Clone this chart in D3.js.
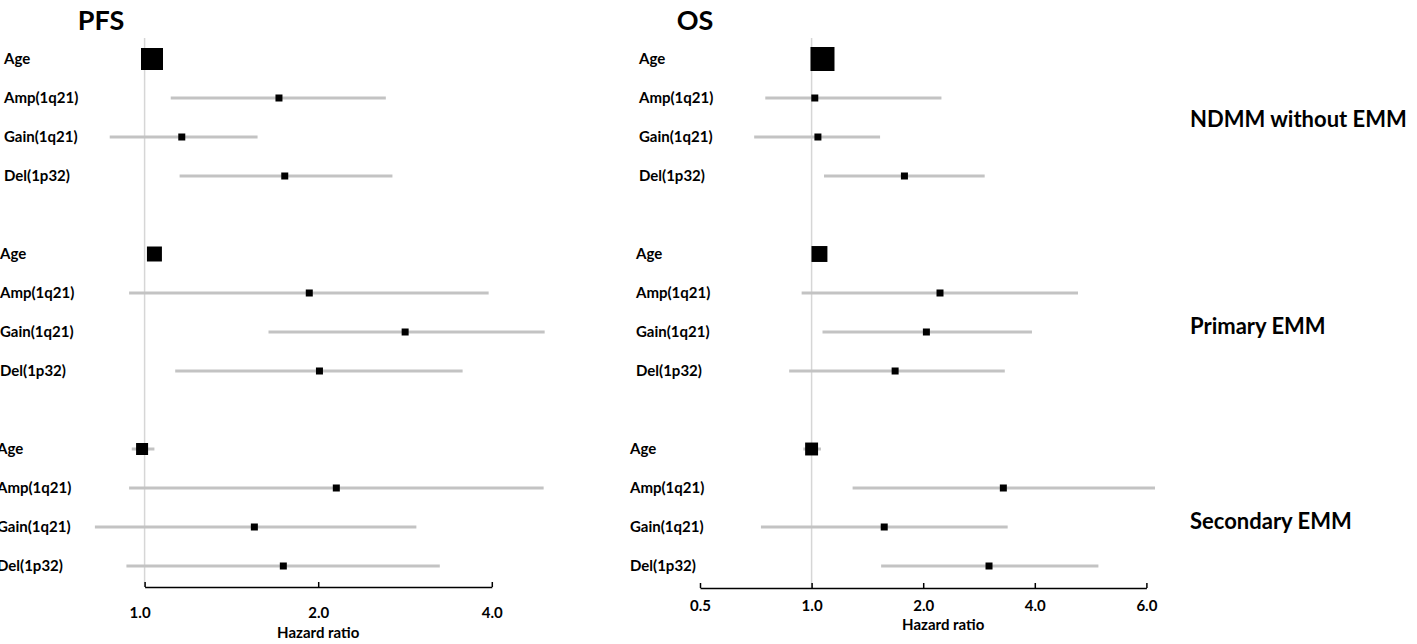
<!DOCTYPE html>
<html>
<head>
<meta charset="utf-8">
<script src="https://cdn.jsdelivr.net/npm/d3@7"></script>
<style>
body{margin:0;background:#fff;}
text{font-family:Lato,"Open Sans",sans-serif;font-weight:bold;fill:#000;}
</style>
</head>
<body>
<div id="chart"></div>
<script>
// cohorts and covariates
var groups = ["NDMM without EMM", "Primary EMM", "Secondary EMM"];
var variables = ["Age", "Amp(1q21)", "Gain(1q21)", "Del(1p32)"];

// PFS hazard ratios, 95% CI, weights (one row per cohort)
var pfsHR   = [[1.03, 1.71, 1.16, 1.75], [1.04, 1.93, 2.83, 2.01], [0.99, 2.15, 1.55, 1.74]];
var pfsLow  = [[1.02, 1.11, 0.87, 1.15], [1.02, 0.94, 1.64, 1.13], [0.95, 0.94, 0.82, 0.93]];
var pfsHigh = [[1.05, 2.62, 1.57, 2.69], [1.06, 3.95, 4.94, 3.56], [1.04, 4.92, 2.96, 3.25]];
var pfsWeight = [[84, 8.5, 8.5, 8.5], [39, 8.5, 8.5, 8.5], [25, 8.5, 8.5, 8.5]];

// OS hazard ratios, 95% CI, weights
var osHR   = [[1.07, 1.02, 1.04, 1.78], [1.05, 2.22, 2.04, 1.68], [1.00, 3.29, 1.57, 3.01]];
var osLow  = [[1.05, 0.75, 0.70, 1.08], [1.03, 0.94, 1.07, 0.87], [0.95, 1.29, 0.73, 1.54]];
var osHigh = [[1.08, 2.24, 1.53, 2.93], [1.06, 4.68, 3.93, 3.32], [1.06, 6.19, 3.38, 5.04]];
var osWeight = [[100, 8.5, 8.5, 8.5], [44, 8.5, 8.5, 8.5], [29, 8.5, 8.5, 8.5]];

// axis ticks
var pfsTicks = [1.0, 2.0, 4.0];
var osTicks = [0.5, 1.0, 2.0, 4.0, 6.0];

var width = 1417, height = 644;

var svg = d3.select("#chart")
	.append("svg")
	.attr("width", width)
	.attr("height", height);

// 4 rows per cohort, one empty slot between cohorts
var y = d3.scaleLinear().domain([0, 13]).range([59, 566]);
var size = d3.scaleSqrt().domain([0, 100]).range([0, 24]);

var osStep = 111.6;
var panels = [
	{title: "PFS", titleX: 101, hr: pfsHR, low: pfsLow, high: pfsHigh, w: pfsWeight, ticks: pfsTicks,
	 x: d3.scaleLog().base(2).domain([1, 4]).range([144.6, 491.8]),
	 labelX: [4, 0, -3], axisY: 587, tickY: 20, firstTickDx: -5, hrY: 638, hrDx: 0},
	{title: "OS", titleX: 695, hr: osHR, low: osLow, high: osHigh, w: osWeight, ticks: osTicks,
	 // ticks are evenly spaced on the original axis
	 x: d3.scaleLog().base(2).domain(osTicks).range(osTicks.map(function(d, i){ return 700 + i*osStep; })),
	 labelX: [639, 636, 630], axisY: 588, tickY: 12, firstTickDx: 0, hrY: 630, hrDx: 20}
];

panels.forEach(function(p){
	var g = svg.append("g");
	var x = p.x;

	g.append("text")
		.attr("x", p.titleX)
		.attr("y", 30)
		.attr("text-anchor", "middle")
		.attr("font-size", "27px")
		.text(p.title);

	// reference line at HR = 1
	g.append("line")
		.attr("x1", x(1)).attr("x2", x(1))
		.attr("y1", 38).attr("y2", p.axisY)
		.attr("stroke", "#d6d6d6")
		.attr("stroke-width", 1.5);

	var rows = [];
	groups.forEach(function(grp, gi){
		variables.forEach(function(v, vi){
			rows.push({g: gi, name: v, slot: gi*5 + vi,
				hr: p.hr[gi][vi], low: p.low[gi][vi], high: p.high[gi][vi], w: p.w[gi][vi]});
		});
	});

	g.selectAll(".lab")
		.data(rows)
		.enter()
		.append("text")
		.attr("x", function(d){ return p.labelX[d.g]; })
		.attr("y", function(d){ return y(d.slot); })
		.attr("dy", "0.35em")
		.attr("font-size", "15px")
		.text(function(d){ return d.name; });

	g.selectAll(".ci")
		.data(rows)
		.enter()
		.append("line")
		.attr("x1", function(d){ return x(d.low); })
		.attr("x2", function(d){ return x(d.high); })
		.attr("y1", function(d){ return y(d.slot); })
		.attr("y2", function(d){ return y(d.slot); })
		.attr("stroke", "#c3c3c3")
		.attr("stroke-width", 3);

	g.selectAll(".pt")
		.data(rows)
		.enter()
		.append("rect")
		.attr("x", function(d){ return x(d.hr) - size(d.w)/2; })
		.attr("y", function(d){ return y(d.slot) - size(d.w)/2; })
		.attr("width", function(d){ return size(d.w); })
		.attr("height", function(d){ return size(d.w); })
		.attr("fill", "#000");

	var ax = g.append("g")
		.attr("transform", "translate(0," + p.axisY + ")")
		.call(d3.axisBottom(x)
			.tickValues(p.ticks)
			.tickFormat(d3.format(".1f"))
			.tickSize(-5)
			.tickSizeOuter(0));
	ax.select(".domain").attr("stroke", "#000").attr("stroke-width", 1.5);
	ax.selectAll(".tick line").attr("stroke", "#000").attr("stroke-width", 1.5);
	ax.selectAll(".tick text")
		.attr("y", p.tickY)
		.attr("dx", function(d, i){ return i == 0 ? p.firstTickDx : 0; })
		.attr("font-size", "15px")
		.attr("font-family", "Lato, sans-serif")
		.attr("font-weight", "bold");

	var r = x.range();
	g.append("text")
		.attr("x", (r[0] + r[r.length - 1]) / 2 + p.hrDx)
		.attr("y", p.hrY)
		.attr("text-anchor", "middle")
		.attr("font-size", "15px")
		.text("Hazard ratio");
});

// cohort names on the right
var groupSlot = [1.55, 6.85, 11.85];
svg.selectAll(".grp")
	.data(groups)
	.enter()
	.append("text")
	.attr("x", 1190)
	.attr("y", function(d, i){ return y(groupSlot[i]); })
	.attr("dy", "0.35em")
	.attr("font-size", "22px")
	.text(function(d){ return d; });
</script>
</body>
</html>
